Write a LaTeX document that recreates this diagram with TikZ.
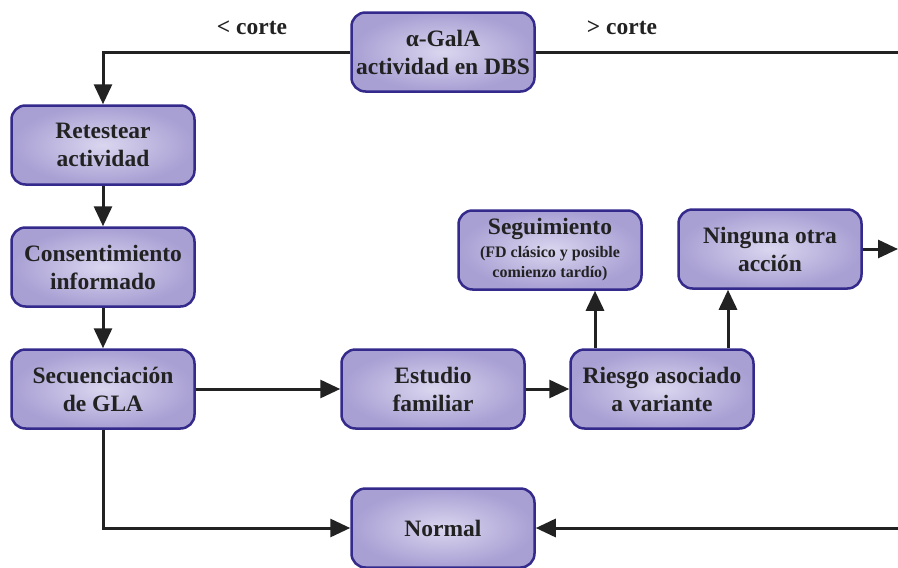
\documentclass[tikz,border=0pt]{standalone}
\usepackage{fontspec}
\setmainfont{Liberation Serif}
\usetikzlibrary{arrows.meta}
\definecolor{boxedge}{RGB}{52,42,140}
\definecolor{boxin}{RGB}{218,214,239}
\definecolor{boxout}{RGB}{168,159,211}
\definecolor{ink}{RGB}{34,34,34}
\definecolor{txt}{RGB}{34,34,34}
\newcommand\subfont{\fontsize{16}{20}\selectfont}
\begin{document}
\begin{tikzpicture}[x=1pt,y=-1pt,
  box/.style={draw=boxedge, line width=2.5pt, rounded corners=14pt,
    minimum width=183pt, minimum height=79pt, shade, inner color=boxin,
    outer color=boxout, align=center,
    font=\fontsize{23.5}{28}\selectfont\bfseries, text=txt},
  conn/.style={draw=ink, line width=3pt, -{Triangle[length=20pt,width=18pt]}},
  plain/.style={draw=ink, line width=3pt},
  lbl/.style={font=\fontsize{23.5}{28}\selectfont\bfseries, text=txt}]
\useasboundingbox (0,0) rectangle (898,568);
\clip (0,0) rectangle (898,568);
\node[box] (gala) at (443,52) {α-GalA\\actividad en DBS};
\node[box] (ret) at (103,145) {Retestear\\actividad};
\node[box] (cons) at (103,267) {Consentimiento\\informado};
\node[box] (sec) at (103,389) {Secuenciación\\de GLA};
\node[box] (est) at (433,389) {Estudio\\familiar};
\node[box] (rie) at (662,389) {Riesgo asociado\\a variante};
\node[box] (seg) at (550,250) {Seguimiento\\[-5pt]{\subfont (FD clásico y posible}\\[-8pt]{\subfont comienzo tardío)}};
\node[box] (nin) at (770,249) {Ninguna otra\\acción};
\node[box] (nor) at (443,528) {Normal};
\node[lbl] (lo) at (252,28) {< corte};
\node[lbl] (hi) at (622,28) {> corte};
\coordinate (re1) at (898,52);
\coordinate (re2) at (898,249);
\coordinate (re3) at (898,528);
\draw[conn] (gala.west) -| (ret.north);
\draw[plain] (gala.east) -- (re1);
\draw[conn] (ret) -- (cons);
\draw[conn] (cons) -- (sec);
\draw[conn] (sec) -- (est);
\draw[conn] (est) -- (rie);
\draw[conn] ([xshift=-67pt]rie.north) -- ([xshift=-67pt]rie.north |- seg.south);
\draw[conn] ([xshift=66pt]rie.north) -- ([xshift=66pt]rie.north |- nin.south);
\draw[conn] (sec.south) |- (nor.west);
\draw[conn] (re3) -- (nor.east);
\draw[conn] (nin.east) -- (re2);
\end{tikzpicture}
\end{document}
